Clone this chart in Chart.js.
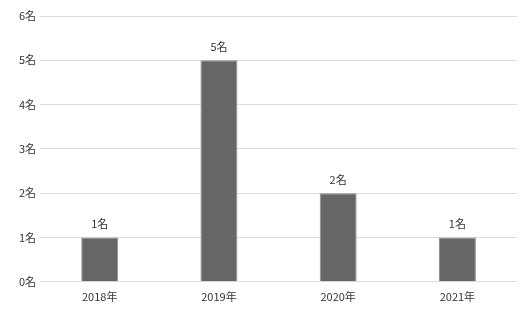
<!DOCTYPE html>
<html>
<head>
<meta charset="utf-8">
<script src="https://cdn.jsdelivr.net/npm/chart.js@4"></script>
<style>
  body { margin: 0; background: #fff; }
  #wrap { width: 520px; height: 320px; }
</style>
</head>
<body>
<div id="wrap"><canvas id="chart"></canvas></div>
<script>
// 年ごとの人数
const years = ['2018年', '2019年', '2020年', '2021年'];
const counts = [1, 5, 2, 1];
const yTicks = [0, 1, 2, 3, 4, 5, 6];

const fontFamily = '"Noto Sans CJK JP", "Noto Sans", sans-serif';

// バーの上に値を表示する
const valueLabels = {
    id: 'valueLabels',
    afterDatasetsDraw(chart) {
        const ctx = chart.ctx;
        const meta = chart.getDatasetMeta(0);
        ctx.save();
        ctx.font = '11px ' + fontFamily;
        ctx.fillStyle = '#333';
        ctx.textAlign = 'center';
        ctx.textBaseline = 'bottom';
        meta.data.forEach((bar, i) => {
            ctx.fillText(counts[i] + '名', bar.x, bar.y - 8);
        });
        ctx.restore();
    }
};

new Chart(document.getElementById('chart'), {
    type: 'bar',
    data: {
        labels: years,
        datasets: [{
            data: counts,
            backgroundColor: '#666666',
            borderColor: '#8a8a8a',
            borderWidth: 1,
            categoryPercentage: 1,
            barPercentage: 0.31
        }]
    },
    options: {
        responsive: true,
        maintainAspectRatio: false,
        animation: false,
        layout: { padding: { top: 16, right: 3, left: 15, bottom: 17 } },
        plugins: {
            legend: { display: false },
            tooltip: { enabled: false }
        },
        scales: {
            x: {
                grid: { display: false },
                border: { display: false },
                ticks: { color: '#333', padding: 0, font: { family: fontFamily, size: 11 } }
            },
            y: {
                min: yTicks[0],
                max: yTicks[yTicks.length - 1],
                afterBuildTicks: axis => { axis.ticks = yTicks.map(v => ({ value: v })); },
                grid: { color: '#dddddd', drawTicks: false },
                border: { display: false },
                ticks: {
                    color: '#333',
                    padding: 4,
                    font: { family: fontFamily, size: 11 },
                    callback: v => v + '名'
                }
            }
        }
    },
    plugins: [valueLabels]
});
</script>
</body>
</html>
